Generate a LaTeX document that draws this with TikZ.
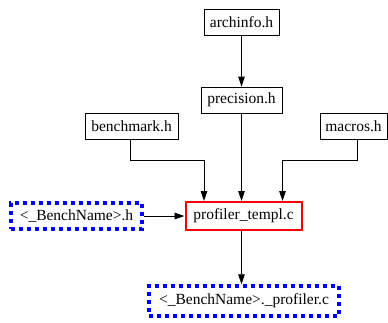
\documentclass[tikz,border=0pt]{standalone}
\usepackage{fontspec}
\setmainfont{Liberation Serif}
\usetikzlibrary{arrows.meta}
\begin{document}
\begin{tikzpicture}[x=1pt,y=1pt,
  box/.style={draw=black,line width=0.8pt,rectangle,inner sep=0pt,minimum height=26pt,font=\fontsize{15.5}{18}\selectfont},
  redbox/.style={box,draw=red,line width=2pt,minimum height=28pt},
  bluebox/.style={box,draw=blue,line width=3.5pt,dash pattern=on 4pt off 4pt},
  conn/.style={line width=0.8pt,-{Triangle[length=10pt,width=6.5pt]}}]
\useasboundingbox (0,0) rectangle (388,-322);
\node[box,minimum width=75pt] (arch) at (241.5,-22) {archinfo.h};
\node[box,minimum width=81pt] (prec) at (241.5,-100) {precision.h};
\node[box,minimum width=93pt] (bench) at (131.5,-126) {benchmark.h};
\node[box,minimum width=67pt] (macros) at (353.5,-126) {macros.h};
\node[redbox,minimum width=116pt] (prof) at (243.5,-216) {profiler\_templ.c};
\node[bluebox,minimum width=131pt,minimum height=26pt] (bnh) at (76.5,-216) {<\_BenchName>.h};
\node[bluebox,minimum width=190pt,minimum height=30pt] (out) at (244,-301) {<\_BenchName>.\_profiler.c};
\coordinate (bl) at (130,-160);
\coordinate (ml) at (357.5,-160);
\draw[conn] (arch.south) -- (prec.north);
\draw[conn] (prec.south) -- (prec.south |- prof.north);
\draw[line width=0.8pt] ([xshift=-1.5pt]bench.south) -- (bl);
\draw[conn] (bl) -| ([xshift=-39.5pt]prof.north);
\draw[line width=0.8pt] ([xshift=4pt]macros.south) -- (ml);
\draw[conn] (ml) -| ([xshift=39pt]prof.north);
\draw[conn] (bnh.east) -- (prof.west);
\draw[conn] (prec.south |- prof.south) -- (prec.south |- out.north);
\end{tikzpicture}
\end{document}
